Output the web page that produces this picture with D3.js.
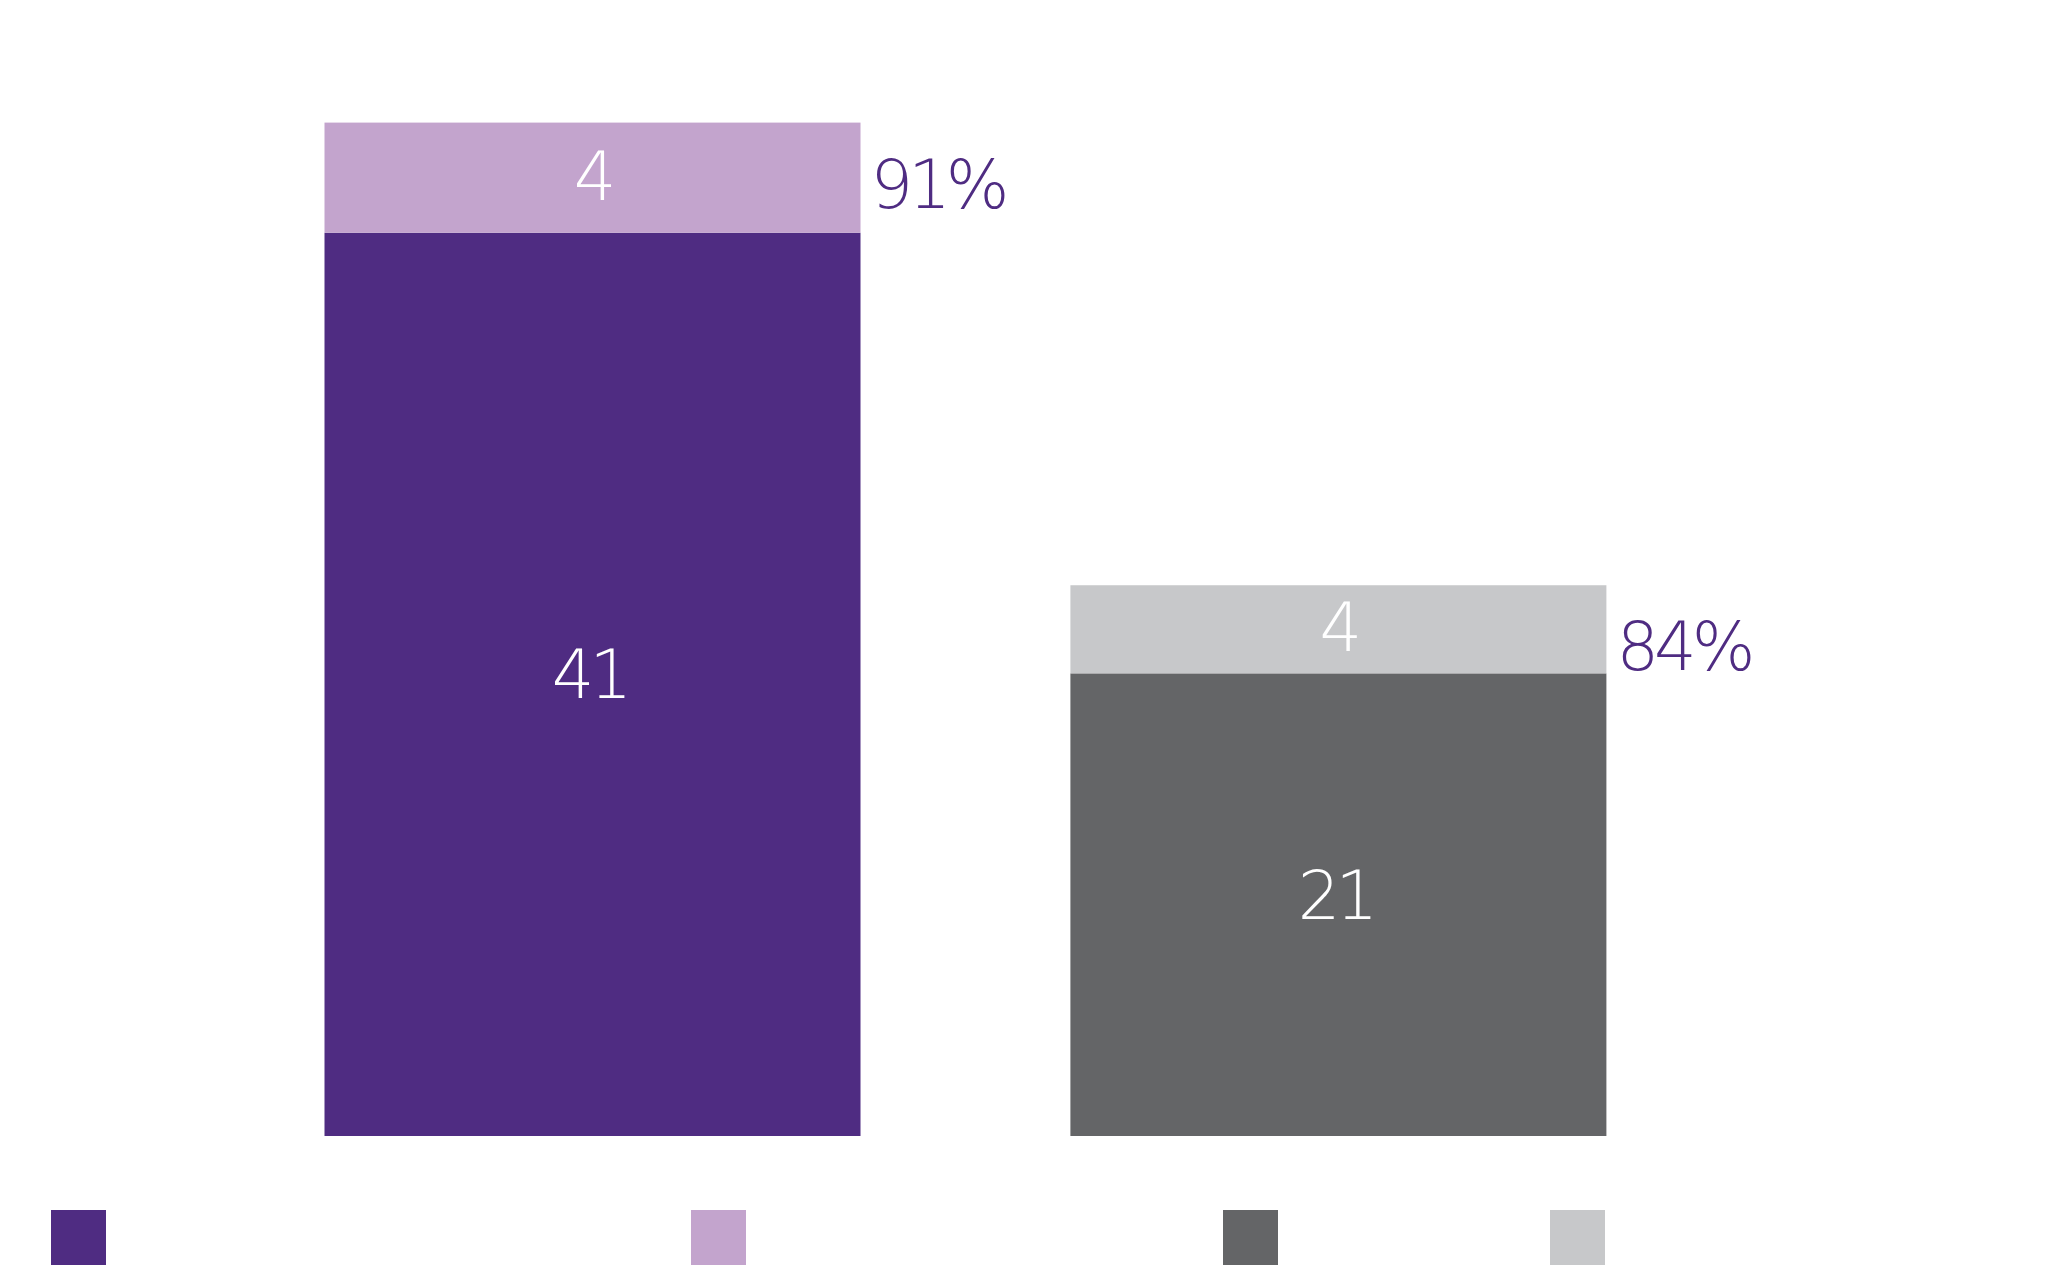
<!DOCTYPE html>
<html>
<head>
<meta charset="utf-8">
<script src="https://cdn.jsdelivr.net/npm/d3@7"></script>
<style>
  html, body { margin: 0; padding: 0; background: #fff; }
  svg { display: block; }
</style>
</head>
<body>
<div id="chart"></div>
<script>
// two stacked columns, value labels inside, share label to the right

var categories = ["A", "B"];
var baseValues = [41, 21];          // lower segment height
var topValues = [5, 4];             // upper segment height (as drawn)
var baseLabels = ["41", "21"];
var topLabels = ["4", "4"];
var shareLabels = ["91%", "84%"];
var baseColors = ["#4f2c82", "#646567"];
var topColors = ["#c3a4cd", "#c7c8ca"];
var legendColors = ["#4f2c82", "#c3a4cd", "#646567", "#c7c8ca"];
var legendX = [51, 691, 1223, 1550];

document.addEventListener("DOMContentLoaded", function(event) {

	var W = 2057, H = 1269;
	var svg = d3.select("#chart").append("svg")
		.attr("width", W)
		.attr("height", H);

	var x = d3.scaleBand()
		.domain(categories)
		.range([324.5, 1606.4])
		.paddingInner(0.2814)
		.paddingOuter(0);

	var y = d3.scaleLinear()
		.domain([0, 46])
		.range([1136, 122.6]);

	var rows = categories.map(function(c, i) {
		return { cat: c, base: baseValues[i], top: topValues[i], i: i };
	});

	var font = "'DejaVu Sans', sans-serif";

	// lower segment
	svg.selectAll("rect.base")
		.data(rows)
		.enter().append("rect")
		.attr("class", "base")
		.attr("x", function(d) { return x(d.cat); })
		.attr("width", x.bandwidth())
		.attr("y", function(d) { return y(d.base); })
		.attr("height", function(d) { return y(0) - y(d.base); })
		.attr("fill", function(d) { return baseColors[d.i]; });

	// upper segment
	svg.selectAll("rect.top")
		.data(rows)
		.enter().append("rect")
		.attr("class", "top")
		.attr("x", function(d) { return x(d.cat); })
		.attr("width", x.bandwidth())
		.attr("y", function(d) { return y(d.base + d.top); })
		.attr("height", function(d) { return y(d.base) - y(d.base + d.top); })
		.attr("fill", function(d) { return topColors[d.i]; });

	var textStyle = function(sel) {
		sel.style("font-family", font)
			.style("font-weight", 200)
			.style("font-size", "67px")
			.style("letter-spacing", "-5px");
	};

	svg.selectAll("text.baseLbl")
		.data(rows)
		.enter().append("text")
		.attr("class", "baseLbl")
		.attr("x", function(d) { return x(d.cat) + x.bandwidth() / 2 - 3; })
		.attr("y", function(d) { return (y(0) + y(d.base)) / 2 + 14; })
		.attr("text-anchor", "middle")
		.attr("fill", "#fff")
		.text(function(d) { return baseLabels[d.i]; })
		.call(textStyle);

	svg.selectAll("text.topLbl")
		.data(rows)
		.enter().append("text")
		.attr("class", "topLbl")
		.attr("x", function(d) { return x(d.cat) + x.bandwidth() / 2; })
		.attr("y", function(d) { return (y(d.base) + y(d.base + d.top)) / 2 + 22; })
		.attr("text-anchor", "middle")
		.attr("fill", "#fff")
		.text(function(d) { return topLabels[d.i]; })
		.call(textStyle);

	// share labels next to the column top
	svg.selectAll("text.share")
		.data(rows)
		.enter().append("text")
		.attr("class", "share")
		.attr("x", function(d) { return x(d.cat) + x.bandwidth() + 10; })
		.attr("y", function(d) { return y(d.base + d.top) + 85; })
		.attr("fill", "#4f2c82")
		.text(function(d) { return shareLabels[d.i]; })
		.call(textStyle);

	// legend swatches (no visible labels)
	svg.selectAll("rect.legend")
		.data(legendColors)
		.enter().append("rect")
		.attr("class", "legend")
		.attr("x", function(d, i) { return legendX[i]; })
		.attr("y", 1210)
		.attr("width", 55)
		.attr("height", 55)
		.attr("fill", function(d) { return d; });
});
</script>
</body>
</html>
